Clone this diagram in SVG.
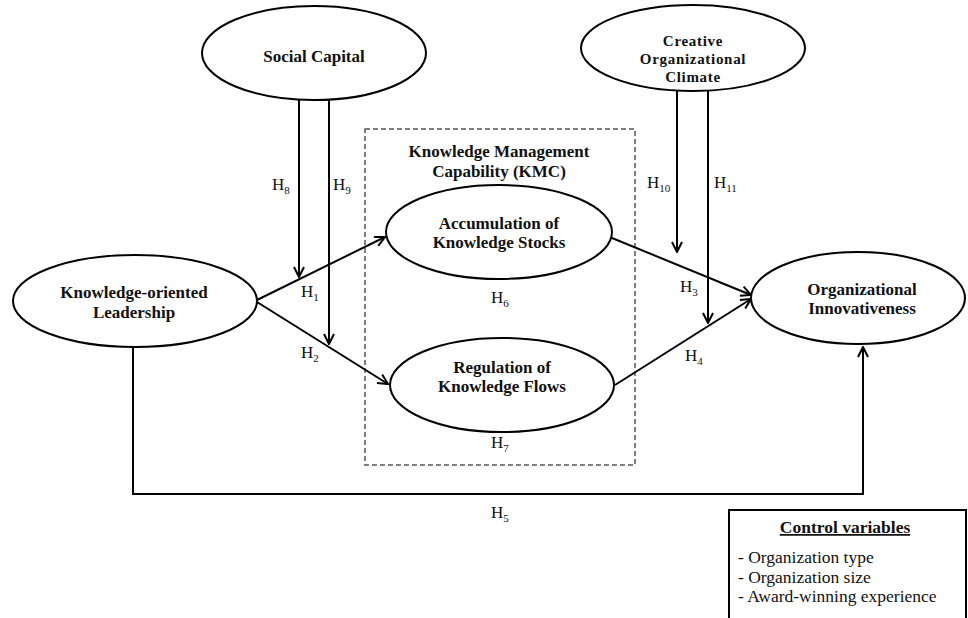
<svg xmlns="http://www.w3.org/2000/svg" width="968" height="618" viewBox="0 0 968 618">
<defs>
<marker id="arr" viewBox="0 0 12 12" refX="11" refY="6" markerWidth="12" markerHeight="12" markerUnits="userSpaceOnUse" orient="auto">
<path d="M1,1 L11,6 L1,11" fill="none" stroke="#000" stroke-width="2"/>
</marker>
<style>
.node ellipse{fill:#fff;stroke:#000;stroke-width:2}
.lbl{font-family:"Liberation Serif","Times New Roman",serif;font-size:17px;font-weight:bold;fill:#111;text-anchor:middle}
.sm{font-size:15px;letter-spacing:0.7px}
.h{font-family:"Liberation Serif","Times New Roman",serif;font-size:17px;fill:#111}
.sub{font-size:11px}
.conn path{fill:none;stroke:#000;stroke-width:2}
.ctl{font-family:"Liberation Serif","Times New Roman",serif;font-size:17.5px;fill:#111}
</style>
</defs>
<rect width="968" height="618" fill="#fff"/>

<g id="kmc-box">
<rect x="365" y="129" width="270" height="336" fill="none" stroke="#555" stroke-width="1.5" stroke-dasharray="5,3"/>
<text class="lbl" x="499" y="157">Knowledge Management</text>
<text class="lbl" x="499" y="177">Capability (KMC)</text>
</g>

<g class="conn" id="connectors">
<path d="M299,99 V277" marker-end="url(#arr)"/>
<path d="M329,99 V344" marker-end="url(#arr)"/>
<path d="M677,91 V252" marker-end="url(#arr)"/>
<path d="M708,90 V323" marker-end="url(#arr)"/>
<path d="M257,300 L385,237" marker-end="url(#arr)"/>
<path d="M257,302 L388,384" marker-end="url(#arr)"/>
<path d="M612,238 L751,295" marker-end="url(#arr)"/>
<path d="M615,385 L751,299" marker-end="url(#arr)"/>
<path d="M133,347 V494 H863 V347" marker-end="url(#arr)"/>
</g>

<g id="hyp-labels">
<text class="h" x="272" y="190">H<tspan class="sub" dy="4">8</tspan></text>
<text class="h" x="333" y="190">H<tspan class="sub" dy="4">9</tspan></text>
<text class="h" x="647" y="188">H<tspan class="sub" dy="4">10</tspan></text>
<text class="h" x="714" y="188">H<tspan class="sub" dy="4">11</tspan></text>
<text class="h" x="301" y="297">H<tspan class="sub" dy="4">1</tspan></text>
<text class="h" x="301" y="358">H<tspan class="sub" dy="4">2</tspan></text>
<text class="h" x="680" y="292">H<tspan class="sub" dy="4">3</tspan></text>
<text class="h" x="685" y="361">H<tspan class="sub" dy="4">4</tspan></text>
<text class="h" x="491" y="303">H<tspan class="sub" dy="4">6</tspan></text>
<text class="h" x="491" y="448">H<tspan class="sub" dy="4">7</tspan></text>
<text class="h" x="491" y="518">H<tspan class="sub" dy="4">5</tspan></text>
</g>

<g class="node" id="social-capital">
<ellipse cx="314" cy="53" rx="112" ry="47"/>
<text class="lbl" x="314" y="62">Social Capital</text>
</g>

<g class="node" id="creative-climate">
<ellipse cx="693" cy="48" rx="112" ry="43"/>
<text class="lbl sm" x="693" y="46">Creative</text>
<text class="lbl sm" x="693" y="64">Organizational</text>
<text class="lbl sm" x="693" y="82">Climate</text>
</g>

<g class="node" id="leadership">
<ellipse cx="135" cy="301" rx="122" ry="46"/>
<text class="lbl" x="134" y="298">Knowledge-oriented</text>
<text class="lbl" x="134" y="318">Leadership</text>
</g>

<g class="node" id="accumulation">
<ellipse cx="499" cy="232" rx="113" ry="47"/>
<text class="lbl" x="499" y="229">Accumulation of</text>
<text class="lbl" x="499" y="248">Knowledge Stocks</text>
</g>

<g class="node" id="regulation">
<ellipse cx="502" cy="385" rx="112" ry="47"/>
<text class="lbl" x="502" y="373">Regulation of</text>
<text class="lbl" x="502" y="392">Knowledge Flows</text>
</g>

<g class="node" id="innovativeness">
<ellipse cx="858" cy="298" rx="107" ry="46"/>
<text class="lbl" x="862" y="295">Organizational</text>
<text class="lbl" x="862" y="314">Innovativeness</text>
</g>

<g id="control-variables">
<rect x="729" y="510" width="237" height="120" fill="#fff" stroke="#000" stroke-width="2"/>
<text class="ctl" x="845" y="533" text-anchor="middle" font-weight="bold" text-decoration="underline">Control variables</text>
<text class="ctl" x="738" y="563">- Organization type</text>
<text class="ctl" x="738" y="583">- Organization size</text>
<text class="ctl" x="738" y="602">- Award-winning experience</text>
</g>
</svg>
